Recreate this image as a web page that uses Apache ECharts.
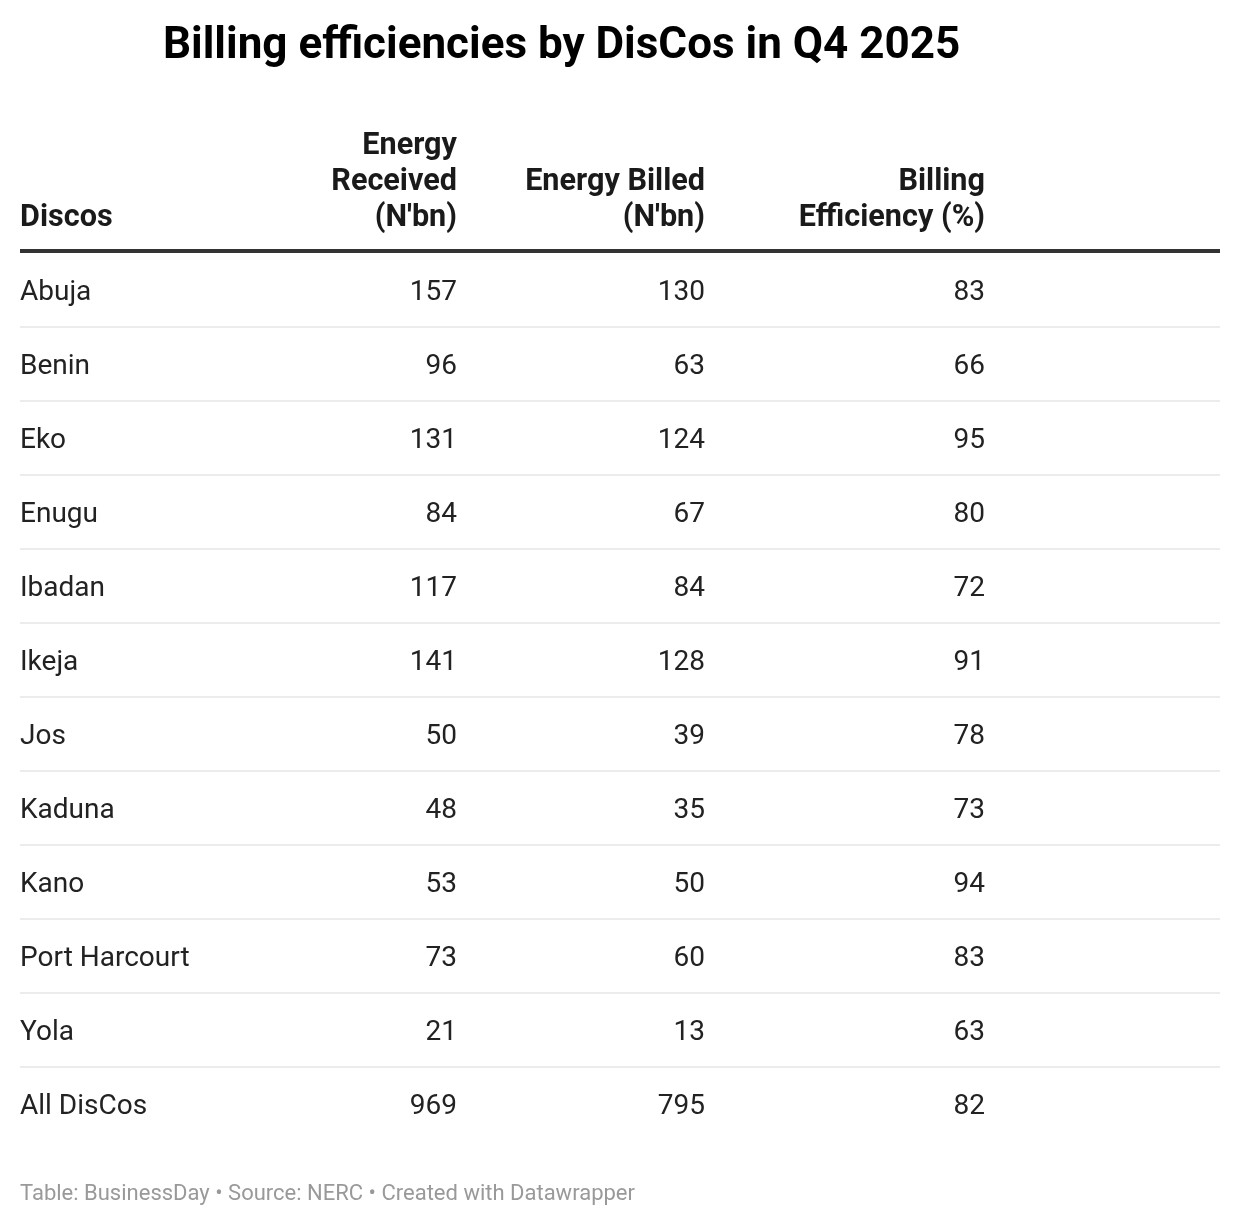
<!DOCTYPE html>
<html><head><meta charset="utf-8">
<script src="https://cdn.jsdelivr.net/npm/echarts@6/dist/echarts.min.js"></script>
<style>html,body{margin:0;padding:0;background:#fff}#c{width:1240px;height:1226px}</style>
</head><body><div id="c"></div>
<script>
const discos = ['Abuja','Benin','Eko','Enugu','Ibadan','Ikeja','Jos','Kaduna','Kano','Port Harcourt','Yola','All DisCos'];
const energyReceived = [157,96,131,84,117,141,50,48,53,73,21,969];
const energyBilled = [130,63,124,67,84,128,39,35,50,60,13,795];
const billingEfficiency = [83,66,95,80,72,91,78,73,94,83,63,82];
const headers = [['Discos'],['Energy','Received',"(N'bn)"],['Energy Billed',"(N'bn)"],['Billing','Efficiency (%)']];
const titleText = 'Billing efficiencies by DisCos in Q4 2025';
const footerText = 'Table: BusinessDay \u2022 Source: NERC \u2022 Created with Datawrapper';

// column anchor positions on the hidden x scale (0..1200 across grid)
const colX = [0, 437, 685, 965];
const colAlign = ['left','right','right','right'];
const FONT = 'Roboto, "Noto Sans", sans-serif';

const chart = echarts.init(document.getElementById('c'), null, {renderer:'canvas'});

const rows = discos.map((d,i)=>[i, d, energyReceived[i], energyBilled[i], billingEfficiency[i]]);

function headerGraphics(){
  const g = [];
  const lh = 36, bottomY = 218;
  headers.forEach((lines, c) => {
    const n = lines.length;
    lines.forEach((t, k) => {
      g.push({type:'text',
        x: 20 + colX[c], y: bottomY - (n-1-k)*lh,
        style:{text:t, fill:'#1a1a1a', font:'bold 30.6px '+FONT, textAlign: colAlign[c], textVerticalAlign:'middle'}});
    });
  });
  g.push({type:'rect', shape:{x:20,y:249,width:1200,height:4}, style:{fill:'#333'}});
  g.push({type:'text', x:163, y:47, style:{text:titleText, fill:'#000', font:'bold 44px '+FONT, textVerticalAlign:'middle'}});
  g.push({type:'text', x:20, y:1194, style:{text:footerText, fill:'#999', font:'22px '+FONT, textVerticalAlign:'middle'}});
  return g;
}

chart.setOption({
  animation:false,
  grid:{left:20, right:20, top:253, height:888},
  xAxis:{type:'value', min:0, max:1200, show:false},
  yAxis:{type:'category', data:discos, inverse:true, show:false},
  graphic: headerGraphics(),
  series:[{
    type:'custom',
    data: rows,
    encode:{y:0},
    renderItem:function(params, api){
      const idx = api.value(0);
      const p = api.coord([0, idx]);
      const bandH = api.size([0,1])[1];
      const cy = p[1];
      const vals = [discos[idx], energyReceived[idx], energyBilled[idx], billingEfficiency[idx]];
      const children = vals.map((v,c)=>{
        const pt = api.coord([colX[c], idx]);
        return {type:'text', x: pt[0], y: cy + 3,
          style:{text:String(v), fill:'#222', font:'28px '+FONT, textAlign: colAlign[c], textVerticalAlign:'middle'}};
      });
      if (idx < discos.length-1) {
        const l = api.coord([0, idx]), r = api.coord([1200, idx]);
        children.push({type:'line', shape:{x1:l[0], y1:cy+bandH/2, x2:r[0], y2:cy+bandH/2}, style:{stroke:'#e6e6e6', lineWidth:1.5}});
      }
      return {type:'group', children};
    }
  }]
});
</script></body></html>
